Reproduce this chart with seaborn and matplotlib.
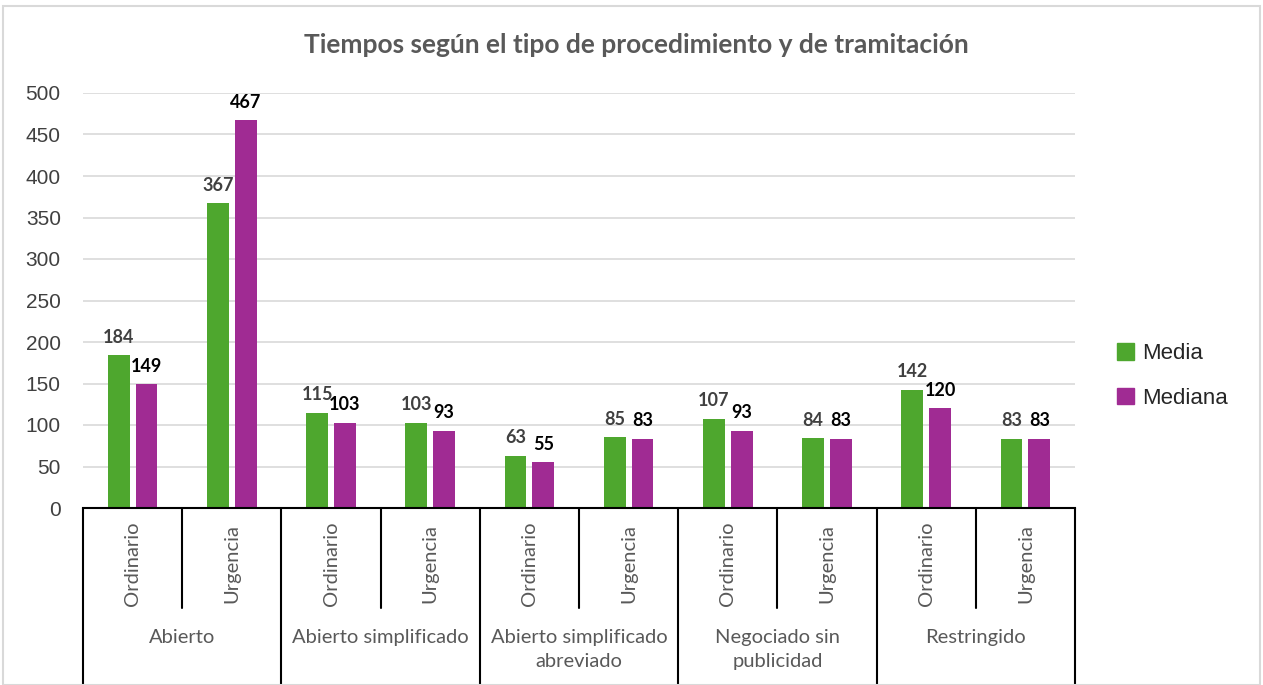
import pandas as pd
import matplotlib.pyplot as plt
import matplotlib.transforms as mtransforms
from matplotlib.patches import Patch, Rectangle
import seaborn as sns

# Chart data
procedimientos = ['Abierto', 'Abierto simplificado', 'Abierto simplificado\nabreviado',
                  'Negociado sin\npublicidad', 'Restringido']
tramitaciones = ['Ordinario', 'Urgencia']
media = [184, 367, 115, 103, 63, 85, 107, 84, 142, 83]
mediana = [149, 467, 103, 93, 55, 83, 93, 83, 120, 83]
series = ['Media', 'Mediana']
colores = ['#4ea72e', '#a02b93']

# Long-form table for seaborn
keys = [f'{p}|{t}' for p in procedimientos for t in tramitaciones]
df = pd.DataFrame({
    'clave': keys * 2,
    'valor': media + mediana,
    'serie': ['Media'] * len(keys) + ['Mediana'] * len(keys),
})

sns.set_style('white')
plt.rcParams['font.family'] = ['Lato', 'DejaVu Sans']

W, H = 1263, 685
fig = plt.figure(figsize=(W / 100, H / 100), dpi=100)
ax = fig.add_axes([83 / W, 1 - 508 / H, 992 / W, 415 / H])

sns.barplot(data=df, x='clave', y='valor', hue='serie', order=keys,
            hue_order=series, palette=colores, saturation=1, width=0.56, gap=0.21,
            linewidth=0, legend=False, ax=ax)

ax.set_xlim(-0.5, len(keys) - 0.5)
ax.set_ylim(0, 500)
ax.set_yticks(range(0, 501, 50))
ax.yaxis.grid(True, color='#d9d9d9', linewidth=1.2)
ax.set_axisbelow(True)
for s in ['left', 'right', 'top']:
    ax.spines[s].set_visible(False)
ax.spines['bottom'].set_color('black')
ax.spines['bottom'].set_linewidth(1.5)
ax.set_xticks([])
ax.set_xlabel('')
ax.set_ylabel('')
ax.tick_params(axis='y', length=0, pad=16, labelsize=15, labelcolor='#404040')
for lab in ax.get_yticklabels():
    lab.set_family(['Liberation Sans', 'DejaVu Sans'])

# Value labels
ax.bar_label(ax.containers[0], padding=7, fontsize=13, fontweight='bold', color='#404040')
ax.bar_label(ax.containers[1], padding=7, fontsize=13, fontweight='bold', color='black')

# Hierarchical category axis
tr = mtransforms.blended_transform_factory(ax.transData, ax.transAxes)
sub_depth = 100 / 415
grp_depth = 177 / 415
for i in range(len(keys) + 1):
    x = i - 0.5
    depth = grp_depth if i % 2 == 0 else sub_depth
    ax.plot([x, x], [0, -depth], transform=tr, color='black', lw=1.5, clip_on=False)
for i, k in enumerate(keys):
    ax.text(i, -56 / 415, k.split('|')[1], transform=tr, rotation=90,
            ha='center', va='center', fontsize=14.5, color='#595959')
for j, p in enumerate(procedimientos):
    ax.text(2 * j + 0.5, -121 / 415, p, transform=tr, ha='center', va='top',
            fontsize=14.5, color='#595959', linespacing=1.5)

# Title
fig.text(636 / W, 1 - 45 / H, 'Tiempos según el tipo de procedimiento y de tramitación',
         ha='center', va='center', fontsize=19, fontweight='bold', color='#595959')

# Legend
handles = [Patch(color=c, label=s) for c, s in zip(colores, series)]
fig.legend(handles=handles, loc='center left', bbox_to_anchor=(1097 / W, 1 - 376 / H),
           frameon=False, handlelength=0.75, handleheight=0.75, handletextpad=0.4,
           labelspacing=1.05, prop={'family': ['Liberation Sans', 'DejaVu Sans'], 'size': 16})

# Chart border
fig.patches.append(Rectangle((3 / W, 0), 1 - 6 / W, 1 - 6 / H, transform=fig.transFigure,
                             fill=False, edgecolor='#d9d9d9', lw=1.5))

fig.savefig('out.png', dpi=100)
